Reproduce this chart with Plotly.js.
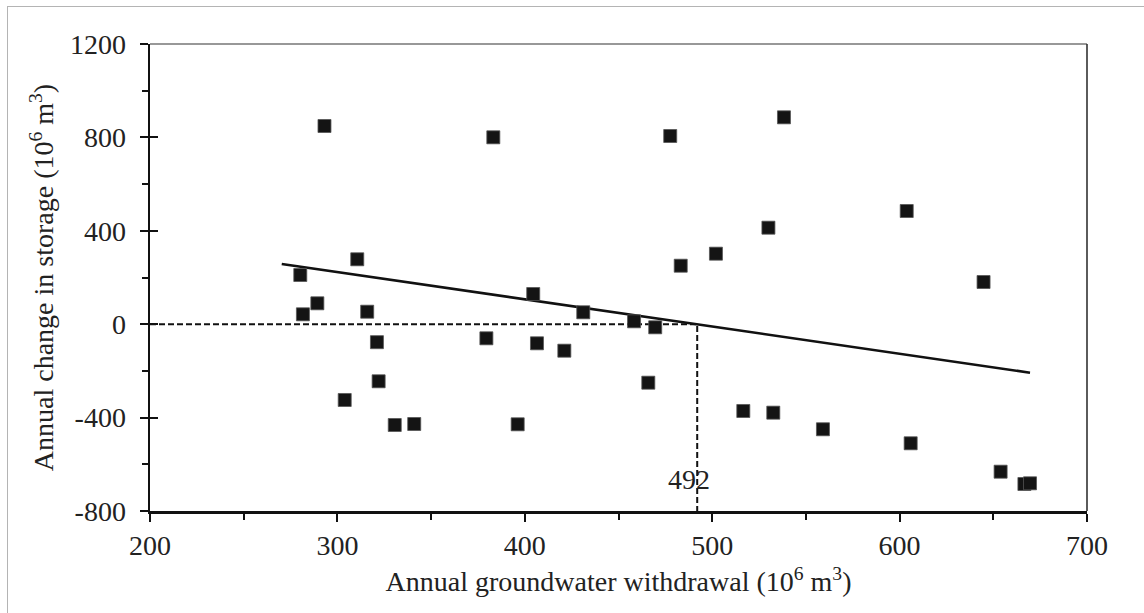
<!DOCTYPE html>
<html>
<head>
<meta charset="utf-8">
<script src="https://cdn.plot.ly/plotly-3.0.1.min.js"></script>
<style>
  html, body { margin: 0; padding: 0; background: #fff; }
  #wrap { position: relative; width: 1144px; height: 613px; overflow: hidden; }
  #chart { position: absolute; left: 0; top: 0; width: 1144px; height: 613px; }
  #frame { position: absolute; left: 7px; top: 6px; width: 1200px; height: 700px;
           border-left: 1.5px solid #b4b4b4; border-top: 1.5px solid #b4b4b4; pointer-events: none; }
</style>
</head>
<body>
<div id="wrap">
  <div id="chart"></div>
  <div id="frame"></div>
</div>
<script>
// Annual groundwater withdrawal (10^6 m^3)
const withdrawal = [280.2, 281.6, 289.3, 293.1, 303.9, 310.6, 315.9, 321.1, 322.0, 330.6,
                    341.0, 379.5, 383.2, 396.2, 404.5, 406.5, 421.1, 431.2, 458.3, 465.9,
                    469.6, 477.6, 483.2, 502.0, 516.6, 530.0, 532.6, 538.3, 559.1, 603.8,
                    605.9, 644.8, 653.9, 666.6, 669.6];
// Annual change in storage (10^6 m^3)
const storageChange = [210.7, 42.4, 89.5, 848.8, -324.6, 278, 53.5, -77, -244.5, -431.7,
                       -427.4, -60.4, 800.4, -428.7, 129.3, -81.8, -113.5, 51, 12.4, -250.5,
                       -13.3, 806, 250.5, 302, -371.7, 413.3, -378.9, 886, -450, 484.8,
                       -510, 180.7, -631.7, -684.4, -681.4];
// Linear trend line end points
const trendX = [270.3, 669.6];
const trendY = [257.8, -207.7];
// Zero-storage-change withdrawal
const threshold = 492;
const xAxisMin = 200, xAxisMax = 700;
const yAxisMin = -800, yAxisMax = 1200;
const xTickVals = [200, 300, 400, 500, 600, 700];
const yTickVals = [-800, -400, 0, 400, 800, 1200];

const FONT = "Liberation Serif";
const FS = 28;

const traces = [
  {
    x: [xAxisMin, threshold, threshold],
    y: [0, 0, yAxisMin],
    mode: 'lines',
    line: { color: '#111', width: 2, dash: '6px,3px' },
    hoverinfo: 'skip',
    showlegend: false
  },
  {
    x: trendX,
    y: trendY,
    mode: 'lines',
    line: { color: '#111', width: 2.6 },
    showlegend: false
  },
  {
    x: withdrawal,
    y: storageChange,
    mode: 'markers',
    marker: { symbol: 'square', size: 13, color: '#141414', line: { width: 0.8, color: '#555' } },
    showlegend: false
  },
  {
    x: [xAxisMin], y: [yAxisMin], xaxis: 'x', yaxis: 'y2',
    mode: 'markers', marker: { opacity: 0 }, hoverinfo: 'skip', showlegend: false
  }
];

const layout = {
  width: 1144,
  height: 613,
  margin: { l: 150, r: 57, t: 44, b: 102 },
  paper_bgcolor: '#fff',
  plot_bgcolor: '#fff',
  font: { family: FONT, size: FS, color: '#222' },
  showlegend: false,
  xaxis: {
    range: [xAxisMin, xAxisMax],
    tickvals: xTickVals,
    ticktext: xTickVals.map(String),
    ticks: 'outside', ticklen: 8, tickwidth: 2, tickcolor: '#111',
    minor: { dtick: 50, ticks: 'outside', ticklen: 6, tickwidth: 2, tickcolor: '#111', showgrid: false },
    showline: true, linecolor: '#111', linewidth: 2.5,
    showgrid: false, zeroline: false,
    tickfont: { family: FONT, size: FS, color: '#222' },
    title: { text: 'Annual groundwater withdrawal (10<sup>6</sup> m<sup>3</sup>)', font: { family: FONT, size: FS, color: '#222' }, standoff: 12 }
  },
  yaxis: {
    range: [yAxisMin, yAxisMax],
    tickvals: yTickVals,
    ticktext: yTickVals.map(String),
    ticks: 'outside', ticklen: 8, tickwidth: 2, tickcolor: '#111',
    ticklabelstandoff: 8,
    minor: { dtick: 200, ticks: 'outside', ticklen: 6, tickwidth: 2, tickcolor: '#111', showgrid: false },
    showline: true, linecolor: '#111', linewidth: 2.5,
    showgrid: false, zeroline: false,
    tickfont: { family: FONT, size: FS, color: '#222' },
    title: { text: 'Annual change in storage (10<sup>6</sup> m<sup>3</sup>)', font: { family: FONT, size: FS, color: '#222' }, standoff: 8 }
  },
  yaxis2: {
    range: [yAxisMin, yAxisMax],
    overlaying: 'y', side: 'left',
    tickvals: yTickVals,
    showticklabels: false,
    ticks: 'inside', ticklen: 8, tickwidth: 2, tickcolor: '#111',
    showline: false, showgrid: false, zeroline: false
  },
  shapes: [
    { type: 'line', xref: 'x domain', yref: 'y domain', x0: 0, x1: 1, y0: 1, y1: 1,
      line: { color: '#333', width: 1.2 } },
    { type: 'line', xref: 'x domain', yref: 'y domain', x0: 1, x1: 1, y0: 0, y1: 1,
      line: { color: '#333', width: 1.6 } }
  ],
  annotations: [
    { x: threshold, y: -667, xref: 'x', yref: 'y', text: String(threshold), showarrow: false,
      xshift: -8, font: { family: FONT, size: FS, color: '#222' } }
  ]
};

Plotly.newPlot('chart', traces, layout, { staticPlot: true, displayModeBar: false });
</script>
</body>
</html>
